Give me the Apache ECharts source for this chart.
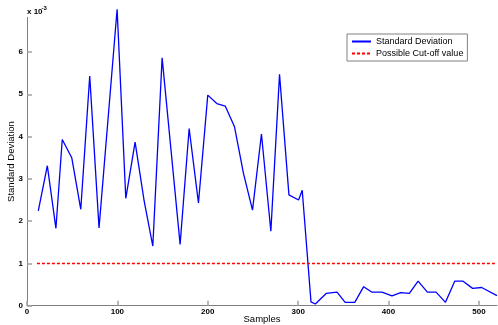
<!DOCTYPE html>
<html>
<head>
<meta charset="utf-8">
<script src="https://cdn.jsdelivr.net/npm/echarts@6/dist/echarts.min.js"></script>
<style>html,body{margin:0;padding:0;background:#fff}#c{width:498px;height:325px}</style>
</head>
<body>
<div id="c"></div>
<script>
var sampleX = [12.5, 22.5, 32, 39, 49.5, 59.5, 69.4, 79.7, 99.7, 109.3, 119.6, 129.6, 139.2, 149.5, 169.4, 179.4, 189.7, 200, 210, 219.3, 229.6, 239.5, 249.5, 259.4, 269.8, 279.4, 289.8, 300.5, 304.5, 314.2, 319, 331, 343, 352, 362.6, 372.5, 381.7, 392.8, 403.8, 413.4, 423, 432.7, 443, 452.6, 463, 473.2, 482.5, 493, 503, 520];
var stdDev = [2.24, 3.31, 1.83, 3.93, 3.5, 2.28, 5.43, 1.84, 7.01, 2.54, 3.87, 2.48, 1.41, 5.86, 1.45, 4.19, 2.43, 4.98, 4.78, 4.72, 4.23, 3.13, 2.26, 4.06, 1.76, 5.47, 2.62, 2.50, 2.73, 0.09, 0.04, 0.29, 0.32, 0.08, 0.08, 0.45, 0.32, 0.32, 0.23, 0.31, 0.29, 0.58, 0.32, 0.32, 0.08, 0.58, 0.58, 0.41, 0.43, 0.24];
var cutoffX = [11, 520];
var cutoffValue = [1, 1];
var xTicks = [0, 100, 200, 300, 400, 500];
var yTicks = [0, 1, 2, 3, 4, 5, 6];

var stdData = sampleX.map(function (x, i) { return [x, stdDev[i]]; });
var cutData = cutoffX.map(function (x, i) { return [x, cutoffValue[i]]; });

var chart = echarts.init(document.getElementById('c'), null, {renderer: 'canvas'});
var tickFont = {fontFamily: 'Liberation Sans, Arial, sans-serif', fontSize: 8, fontWeight: 'bold', color: '#000'};
chart.setOption({
  animation: false,
  backgroundColor: '#fff',
  grid: {left: 27, right: 1, top: 17.3, bottom: 19.3, containLabel: false, outerBoundsMode: 'none'},
  xAxis: {
    type: 'value', min: 0, max: 520, interval: 100,
    name: 'Samples', nameLocation: 'middle', nameGap: 9, nameMoveOverlap: false,
    nameTextStyle: {fontFamily: 'Liberation Sans, Arial, sans-serif', fontSize: 9.5, color: '#000'},
    axisLine: {show: true, lineStyle: {color: '#808080', width: 1}},
    axisTick: {show: true, inside: true, length: 5, lineStyle: {color: '#a0a0a0', width: 1.5}},
    axisLabel: Object.assign({margin: 2, showMaxLabel: false, formatter: function (v) { return xTicks.indexOf(v) >= 0 ? String(v) : ''; }}, tickFont),
    splitLine: {show: false}
  },
  yAxis: {
    type: 'value', min: 0, max: 6.82, interval: 1,
    name: 'Standard Deviation', nameLocation: 'middle', nameGap: 11, nameMoveOverlap: false,
    nameTextStyle: {fontFamily: 'Liberation Sans, Arial, sans-serif', fontSize: 9.5, color: '#000'},
    axisLine: {show: true, lineStyle: {color: '#808080', width: 1}},
    axisTick: {show: true, inside: true, length: 5, lineStyle: {color: '#a0a0a0', width: 1.5}},
    axisLabel: Object.assign({margin: 4, showMaxLabel: false, formatter: function (v) { return yTicks.indexOf(v) >= 0 ? String(v) : ''; }}, tickFont),
    splitLine: {show: false}
  },
  legend: {
    orient: 'vertical', left: 347, top: 34,
    padding: [2, 4, 2, 4], itemGap: 1, itemWidth: 19, itemHeight: 8,
    borderColor: '#808080', borderWidth: 1, backgroundColor: '#fff',
    itemStyle: {color: 'rgba(0,0,0,0)', borderWidth: 0, opacity: 0},
    textStyle: {fontFamily: 'Liberation Sans, Arial, sans-serif', fontSize: 9, color: '#000', lineHeight: 11},
    data: ['Standard Deviation', 'Possible Cut-off value']
  },
  graphic: [
    {type: 'text', left: 27, top: 8, style: {text: 'x 10', font: 'bold 8px Liberation Sans, Arial, sans-serif', fill: '#000'}},
    {type: 'text', left: 41.5, top: 5, style: {text: '-3', font: 'bold 6px Liberation Sans, Arial, sans-serif', fill: '#000'}}
  ],
  series: [
    {
      name: 'Standard Deviation', type: 'line', data: stdData,
      symbol: 'none', showSymbol: false, clip: false,
      lineStyle: {color: '#0000ff', width: 1.3},
      itemStyle: {color: '#0000ff'}
    },
    {
      name: 'Possible Cut-off value', type: 'line', data: cutData,
      symbol: 'none', showSymbol: false,
      lineStyle: {color: '#ff0000', width: 1.5, type: [3, 2]},
      itemStyle: {color: '#ff0000'}
    }
  ]
});
</script>
</body>
</html>
